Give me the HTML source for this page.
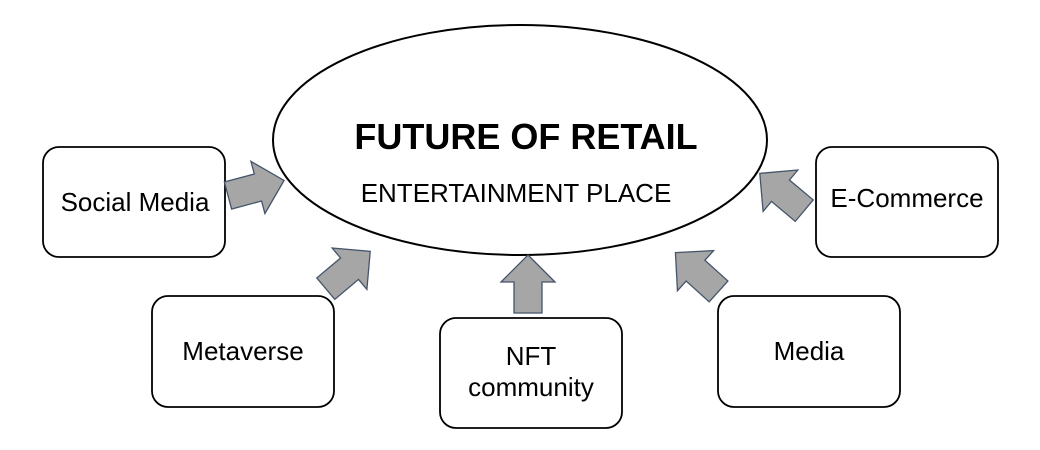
<!DOCTYPE html>
<html><head><style>body{margin:0;background:#fff}svg{display:block}</style></head><body>
<svg width="1040" height="450" viewBox="0 0 1040 450" font-family="Liberation Sans, Arial, sans-serif">
<defs><polygon id="ar" points="0,-29 27,-2 14,-2 14,29 -14,29 -14,-2 -27,-2" fill="#a6a6a6" stroke="#44546a" stroke-width="1.3"/></defs>
<ellipse cx="520" cy="140" rx="247" ry="115" fill="#fff" stroke="#000" stroke-width="2"/>
<text x="526" y="149" font-size="36" font-weight="bold" text-anchor="middle">FUTURE OF RETAIL</text>
<text x="516" y="202" font-size="26" text-anchor="middle">ENTERTAINMENT PLACE</text>
<g fill="#fff" stroke="#000" stroke-width="1.8">
<rect x="43" y="147" width="182" height="110" rx="16"/>
<rect x="152" y="296" width="182" height="111" rx="16"/>
<rect x="440" y="318" width="182" height="110" rx="16"/>
<rect x="718" y="296" width="182" height="111" rx="16"/>
<rect x="816" y="147" width="182" height="110" rx="16"/>
</g>
<g font-size="26" text-anchor="middle">
<text x="135" y="211">Social Media</text>
<text x="243" y="360">Metaverse</text>
<text x="531" y="365">NFT</text>
<text x="531" y="396">community</text>
<text x="809" y="360">Media</text>
<text x="907" y="207">E-Commerce</text>
</g>
<use href="#ar" transform="translate(256,188) rotate(75)"/>
<use href="#ar" transform="translate(348,270) rotate(50)"/>
<use href="#ar" transform="translate(528,284)"/>
<use href="#ar" transform="translate(697,272) rotate(-48)"/>
<use href="#ar" transform="translate(782,192) rotate(-50)"/>
</svg>
</body></html>
